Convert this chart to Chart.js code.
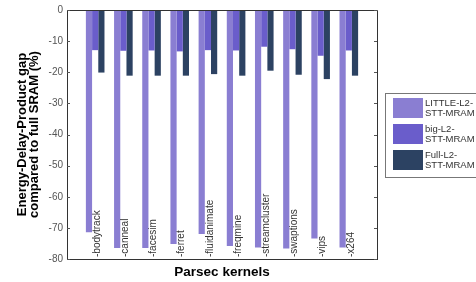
<!DOCTYPE html>
<html>
<head>
<meta charset="utf-8">
<script src="https://cdn.jsdelivr.net/npm/chart.js@4"></script>
<style>
  html, body { margin: 0; padding: 0; background: #fff; }
  #wrap { width: 476px; height: 282px; position: relative; }
</style>
</head>
<body>
<div id="wrap"><canvas id="myChart"></canvas></div>
<script>
var kernels = ['bodytrack', 'canneal', 'facesim', 'ferret', 'fluidanimate', 'freqmine', 'streamcluster', 'swaptions', 'vips', 'x264'];
var littleL2 = [-71.4, -76.5, -76.5, -75.2, -72.0, -75.8, -76.3, -76.6, -73.4, -76.3];
var bigL2 = [-12.9, -13.1, -13.0, -13.3, -12.9, -13.0, -11.8, -12.6, -14.7, -13.0];
var fullL2 = [-20.1, -21.1, -21.1, -21.1, -20.6, -21.1, -19.5, -20.8, -22.2, -21.1];
var yTicks = [-80, -70, -60, -50, -40, -30, -20, -10, 0];

var legendNames = [['LITTLE-L2-', 'STT-MRAM'], ['big-L2-', 'STT-MRAM'], ['Full-L2-', 'STT-MRAM']];
var colors = ['#8a7ed2', '#6a5dcb', '#2c4262'];
var FONT = '"Liberation Sans", Arial, sans-serif';

function toPoints(arr) {
    return arr.map(function(v, i) { return { x: i + 1, y: v }; });
}

// caja, ticks hacia adentro, etiquetas de categorias y leyenda
var extras = {
    id: 'extras',
    afterDatasetsDraw: function(chart) {
        var ctx = chart.ctx;
        var a = chart.chartArea;
        var xs = chart.scales.x, ys = chart.scales.y;
        ctx.save();
        ctx.strokeStyle = '#333';
        ctx.lineWidth = 1;
        ctx.beginPath();
        ctx.moveTo(a.left, a.top + 0.5);
        ctx.lineTo(a.right + 0.5, a.top + 0.5);
        ctx.lineTo(a.right + 0.5, a.bottom);
        ctx.stroke();

        ctx.strokeStyle = '#555';
        yTicks.forEach(function(t) {
            var y = Math.round(ys.getPixelForValue(t)) + 0.5;
            ctx.beginPath();
            ctx.moveTo(a.right, y); ctx.lineTo(a.right - 3, y);
            ctx.moveTo(a.left, y); ctx.lineTo(a.left + 3, y);
            ctx.stroke();
        });

        ctx.fillStyle = '#333';
        ctx.font = '10px ' + FONT;
        ctx.textBaseline = 'middle';
        ctx.textAlign = 'left';
        kernels.forEach(function(k, i) {
            var x = xs.getPixelForValue(i + 1) + 2;
            ctx.save();
            ctx.translate(x, ys.bottom - 2);
            ctx.rotate(-Math.PI / 2);
            ctx.fillText('-' + k, 0, 0);
            ctx.restore();
        });
        ctx.restore();
    },
    afterDraw: function(chart) {
        var ctx = chart.ctx;
        ctx.save();
        ctx.strokeStyle = '#777';
        ctx.lineWidth = 1;
        ctx.strokeRect(385.5, 93.5, 100, 84);
        var tops = [98, 124, 150];
        ctx.font = '9.5px ' + FONT;
        ctx.textBaseline = 'middle';
        ctx.textAlign = 'left';
        legendNames.forEach(function(lines, i) {
            ctx.fillStyle = colors[i];
            ctx.fillRect(393, tops[i], 30, 20);
            ctx.fillStyle = '#333';
            ctx.fillText(lines[0], 425, tops[i] + 5);
            ctx.fillText(lines[1], 425, tops[i] + 15);
        });
        ctx.restore();
    }
};

var ctx = document.getElementById('myChart').getContext('2d');
var chart = new Chart(ctx, {
    type: 'bar',
    data: {
        datasets: [
            { label: legendNames[0].join(''), data: toPoints(littleL2), backgroundColor: colors[0] },
            { label: legendNames[1].join(''), data: toPoints(bigL2), backgroundColor: colors[1] },
            { label: legendNames[2].join(''), data: toPoints(fullL2), backgroundColor: colors[2] }
        ]
    },
    options: {
        responsive: true,
        maintainAspectRatio: false,
        animation: false,
        layout: { padding: { top: 9, right: 99, left: 0, bottom: 0 } },
        datasets: { bar: { categoryPercentage: 0.66, barPercentage: 1.0 } },
        plugins: { legend: { display: false }, tooltip: { enabled: false } },
        scales: {
            x: {
                type: 'linear',
                min: 0,
                max: 11,
                offset: false,
                grid: { display: false, drawTicks: false },
                border: { display: true, color: '#333', width: 1 },
                ticks: { display: false },
                title: {
                    display: true,
                    text: 'Parsec kernels',
                    color: '#000',
                    font: { family: FONT, size: 13.5, weight: 'bold' },
                    padding: { top: 0, bottom: 2 }
                },
                afterFit: function(s) { s.height = 23; }
            },
            y: {
                min: -80,
                max: 0,
                grid: { display: false, drawTicks: false },
                border: { display: true, color: '#333', width: 1 },
                ticks: {
                    stepSize: 10,
                    padding: 4,
                    color: '#555',
                    font: { family: FONT, size: 10 }
                },
                title: {
                    display: true,
                    text: ['Energy-Delay-Product gap', 'compared to full SRAM (%)'],
                    color: '#000',
                    font: { family: FONT, size: 13, weight: 'bold', lineHeight: 0.95 },
                    padding: { top: 16, bottom: 0 }
                },
                afterFit: function(s) { s.width = 67; }
            }
        }
    },
    plugins: [extras]
});
</script>
</body>
</html>
